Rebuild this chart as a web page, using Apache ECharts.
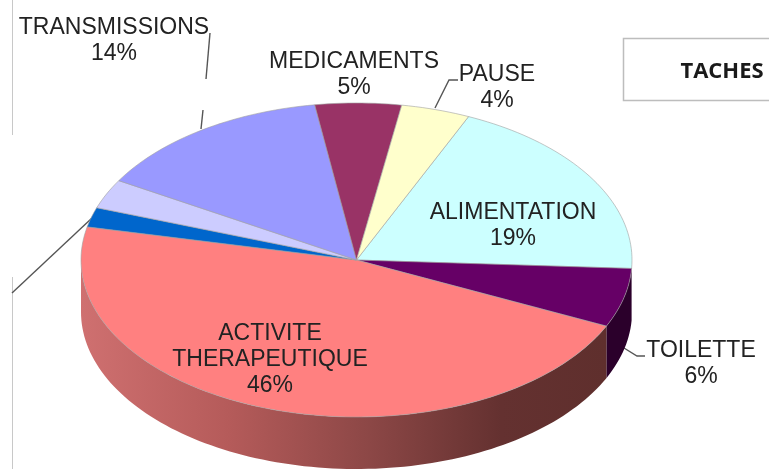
<!DOCTYPE html>
<html>
<head>
<meta charset="utf-8">
<title>TACHES</title>
<style>
html, body { margin: 0; padding: 0; background: #fff; }
#main { width: 769px; height: 469px; }
</style>
<script src="https://cdn.jsdelivr.net/npm/echarts@6/dist/echarts.min.js"></script>
</head>
<body>
<div id="main"></div>
<script>
// slices, clockwise from the pale yellow/cyan boundary
var categories = ['ALIMENTATION', 'TOILETTE', 'ACTIVITE\nTHERAPEUTIQUE', '', '', 'TRANSMISSIONS', 'MEDICAMENTS', 'PAUSE'];
var values = [19, 6, 46, 2, 3, 14, 5, 4];
var colors = ['#ccffff', '#660066', '#ff8080', '#0066cc', '#ccccff', '#9999ff', '#993366', '#ffffcc'];
var sideColors = ['#ccffff', '#2b002b', null, null, null, null, null, null];

var title = 'TACHES';

// pie shape
var cx = 356.5, cy = 260, rx = 275.5, ry = 157, depth = 52;
var startDeg = 24;

// label centre for each slice
var labelPos = [[513, 226], [701, 364], [270, 360], null, null, [114, 41], [354, 75], [497, 88]];

var total = values.reduce(function (a, b) { return a + b; }, 0);

function ept(deg, dy) {
    var r = deg * Math.PI / 180;
    return [cx + rx * Math.sin(r), cy - ry * Math.cos(r) + (dy || 0)];
}

function arcPoints(a, b, dy) {
    var pts = [];
    var n = Math.max(2, Math.ceil((b - a) / 1.5));
    for (var i = 0; i <= n; i++) {
        pts.push(ept(a + (b - a) * i / n, dy));
    }
    return pts;
}

function sliceRange(idx) {
    var sum = 0;
    for (var i = 0; i < idx; i++) sum += values[i];
    var a = startDeg + sum / total * 360;
    return [a, a + values[idx] / total * 360];
}

function renderWall(params) {
    var r = sliceRange(params.dataIndex);
    var a = Math.max(r[0], 90), b = Math.min(r[1], 270);
    if (b <= a || params.dataIndex === 0) return null;
    var pts = arcPoints(a, b, 0).concat(arcPoints(a, b, depth).reverse());
    var fill = sideColors[params.dataIndex];
    if (!fill) {
        fill = new echarts.graphic.LinearGradient(1, 0, 0, 0, [
            { offset: 0, color: '#5f2f2d' },
            { offset: 0.2, color: '#643130' },
            { offset: 0.45, color: '#8c4746' },
            { offset: 0.72, color: '#b55b5a' },
            { offset: 1, color: '#cf7070' }
        ]);
    }
    return {
        type: 'polygon',
        shape: { points: pts },
        style: { fill: fill }
    };
}

function renderTop(params) {
    var r = sliceRange(params.dataIndex);
    var pts = [[cx, cy]].concat(arcPoints(r[0], r[1], 0));
    return {
        type: 'polygon',
        shape: { points: pts },
        style: { fill: colors[params.dataIndex], stroke: '#a0a0a0', lineWidth: 0.6 }
    };
}

function renderLabel(params) {
    var i = params.dataIndex;
    if (!categories[i]) return null;
    return {
        type: 'text',
        x: labelPos[i][0],
        y: labelPos[i][1],
        style: {
            text: categories[i] + '\n' + values[i] + '%',
            font: '23px "Liberation Sans", Arial, sans-serif',
            fill: '#222',
            align: 'center',
            verticalAlign: 'middle',
            lineHeight: 26
        }
    };
}

var seriesData = values.map(function (v, i) { return [i, v]; });

function leader(points) {
    return {
        type: 'polyline',
        shape: { points: points },
        style: { fill: null, stroke: '#555', lineWidth: 1.4 }
    };
}

var myChart = echarts.init(document.getElementById('main'));
var option = {
    animation: false,
    graphic: [
        { type: 'line', shape: { x1: 12.5, y1: 0, x2: 12.5, y2: 135 }, style: { stroke: '#c8c8c8', lineWidth: 1 } },
        { type: 'line', shape: { x1: 12.5, y1: 277, x2: 12.5, y2: 469 }, style: { stroke: '#c8c8c8', lineWidth: 1 } },
        { type: 'rect', shape: { x: 623.5, y: 38.5, width: 160, height: 62 }, style: { fill: '#fff', stroke: '#bdbdbd', lineWidth: 1.5 } },
        {
            type: 'text', x: 722, y: 72,
            style: { text: title, font: 'bold 22px "Open Sans", sans-serif', fill: '#1a1a1a', align: 'center', verticalAlign: 'middle' }
        },
        leader([[210, 33], [206, 79]]),
        leader([[203, 110], [201, 129]]),
        leader([[435, 108], [449, 80], [458, 80]]),
        leader([[624, 348], [637, 356], [645, 356]]),
        leader([[92, 218], [12, 293]])
    ],
    series: [
        { type: 'custom', coordinateSystem: 'none', silent: true, z: 1, data: seriesData, renderItem: renderWall },
        { type: 'custom', coordinateSystem: 'none', silent: true, z: 2, data: seriesData, renderItem: renderTop },
        { type: 'custom', coordinateSystem: 'none', silent: true, z: 3, data: seriesData, renderItem: renderLabel }
    ]
};
myChart.setOption(option);
</script>
</body>
</html>
